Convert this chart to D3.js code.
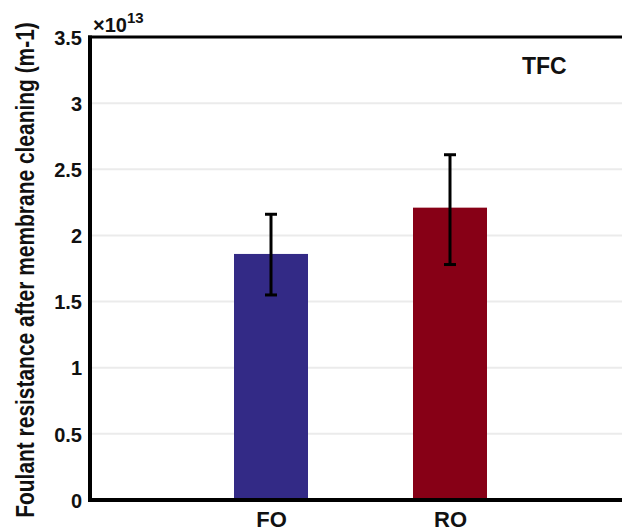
<!DOCTYPE html>
<html>
<head>
<meta charset="utf-8">
<script src="https://cdn.jsdelivr.net/npm/d3@7"></script>
<style>
  body { margin: 0; background: #fff; }
  svg text { font-family: "Liberation Sans", Arial, sans-serif; font-weight: bold; fill: #111; }
</style>
</head>
<body>
<svg width="622" height="532"></svg>
<script>
// values in units of 1e13 m-1
var categories = ["FO", "RO"];
var means = [1.86, 2.21];
var errLow = [1.55, 1.78];
var errHigh = [2.16, 2.61];
var colors = ["#332a86", "#870016"];
var yTicks = [0, 0.5, 1, 1.5, 2, 2.5, 3, 3.5];

var margin = {top: 37, right: 0, bottom: 32, left: 90},
    width = 622 - margin.left - margin.right,
    height = 532 - margin.top - margin.bottom;

var svg = d3.select("svg"),
    g = svg.append("g").attr("transform", "translate(" + margin.left + "," + margin.top + ")");

var x = d3.scalePoint().domain(categories).range([181, 360]);
var y = d3.scaleLinear().domain([0, 3.5]).range([height, 0]);
var barW = 74;

// gridlines
g.selectAll(".grid").data(yTicks.slice(1, -1)).enter().append("line")
    .attr("x1", 2).attr("x2", width)
    .attr("y1", function(d) { return y(d); })
    .attr("y2", function(d) { return y(d); })
    .attr("stroke", "#ebebeb").attr("stroke-width", 2);

// bars
g.selectAll(".bar").data(means).enter().append("rect")
    .attr("x", function(d, i) { return x(categories[i]) - barW / 2; })
    .attr("y", function(d) { return y(d); })
    .attr("width", barW)
    .attr("height", function(d) { return height - y(d); })
    .attr("fill", function(d, i) { return colors[i]; });

// error bars
categories.forEach(function(c, i) {
  var cx = x(c);
  g.append("line").attr("x1", cx).attr("x2", cx)
      .attr("y1", y(errLow[i])).attr("y2", y(errHigh[i]))
      .attr("stroke", "#000").attr("stroke-width", 3);
  [errLow[i], errHigh[i]].forEach(function(v) {
    g.append("line").attr("x1", cx - 6).attr("x2", cx + 6)
        .attr("y1", y(v)).attr("y2", y(v))
        .attr("stroke", "#000").attr("stroke-width", 3);
  });
});

// axes
var yAxis = g.append("g").call(d3.axisLeft(y).tickValues(yTicks).tickSize(0).tickPadding(8)
    .tickFormat(function(d) { return d3.format("")(d); }));
yAxis.select(".domain").remove();
yAxis.selectAll("text").style("font-size", "20px").style("font-weight", "bold")
    .style("font-family", "Liberation Sans, Arial, sans-serif")
    .attr("dy", "0.36em");

var xAxis = g.append("g").attr("transform", "translate(0," + height + ")")
    .call(d3.axisBottom(x).tickSize(0).tickPadding(12));
xAxis.select(".domain").remove();
xAxis.selectAll("text").style("font-size", "22px").style("font-weight", "bold")
    .style("font-family", "Liberation Sans, Arial, sans-serif")
    .attr("y", 27).attr("dy", 0);

// frame lines
g.append("line").attr("x1", 0).attr("x2", 0).attr("y1", -1.5).attr("y2", height + 2)
    .attr("stroke", "#000").attr("stroke-width", 4);
g.append("line").attr("x1", -2).attr("x2", width).attr("y1", 0).attr("y2", 0)
    .attr("stroke", "#000").attr("stroke-width", 3);
g.append("line").attr("x1", -2).attr("x2", width).attr("y1", height).attr("y2", height)
    .attr("stroke", "#000").attr("stroke-width", 4);

// exponent label
var exp = svg.append("text").attr("x", 93).attr("y", 32).style("font-size", "20px");
exp.append("tspan").text("\u00d710");
exp.append("tspan").attr("dy", -9).style("font-size", "15px").text("13");

// panel label
svg.append("text").attr("x", 522).attr("y", 74)
    .style("font-size", "23px").text("TFC");

// y label, squeezed along its length to fit the axis height
var yLab = svg.append("text")
    .attr("text-anchor", "middle")
    .style("font-size", "25px")
    .text("Foulant resistance after membrane cleaning (m-1)");
var k = Math.min(1, 496 / yLab.node().getComputedTextLength());
yLab.attr("transform", "translate(34,270) rotate(-90) scale(" + k + ",1)");
</script>
</body>
</html>
